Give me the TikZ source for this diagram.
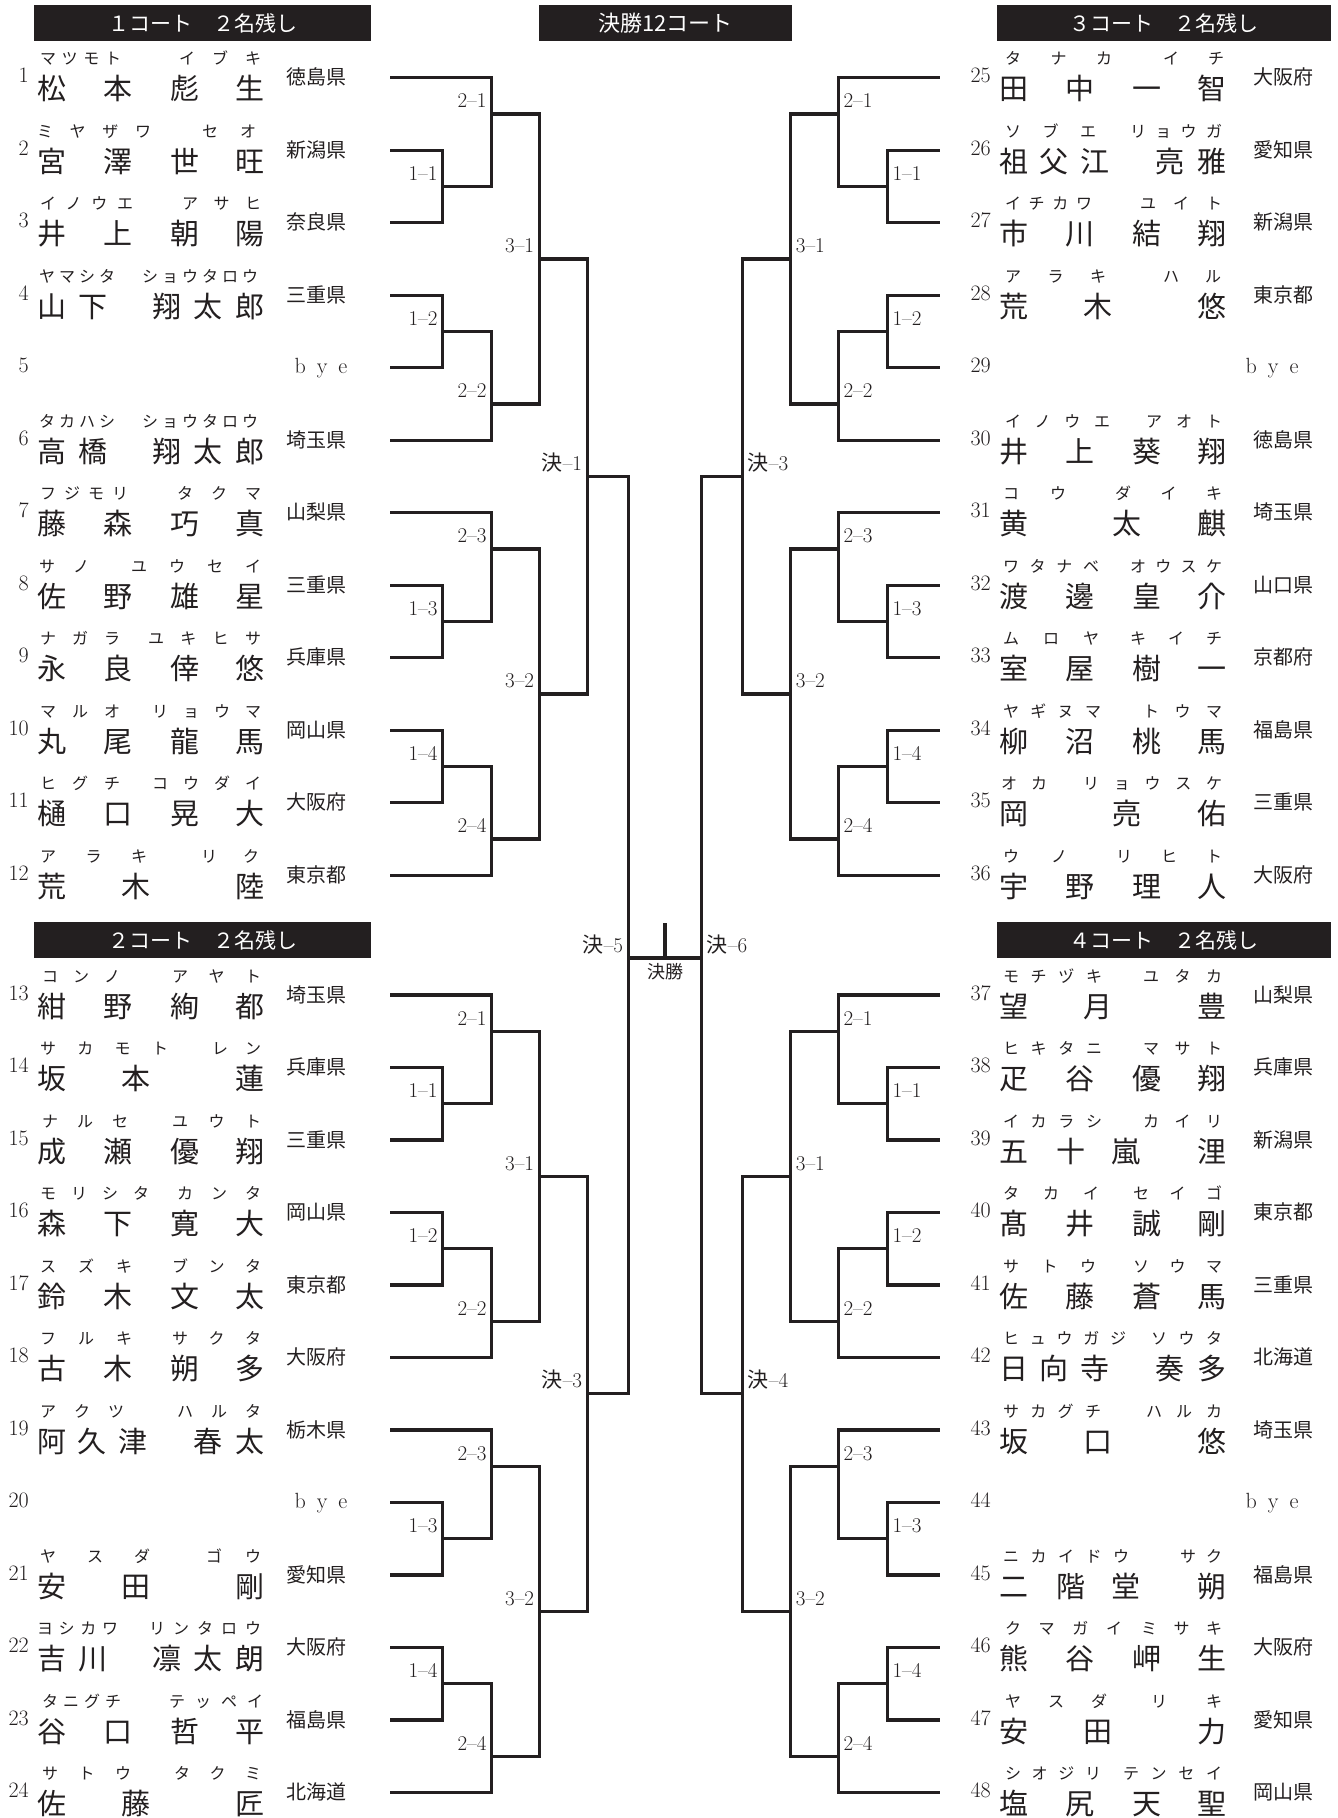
\documentclass[tikz,border=0pt]{standalone}
\usepackage{fontspec}
\newfontfamily\jp{Noto Sans CJK JP}
\definecolor{ink}{RGB}{35,31,32}
% ---------- rows ----------
\newcommand\setrow[2]{%
  \pgfmathsetmacro\yl{#2<12 ? 77.7+72.5*#2 : 995+72.5*(#2-12)}%
  \ifnum#1=0 \def\xo{52}\def\xn{29}\def\xp{316}\def\xbye{321}%
  \else \def\xo{1014}\def\xn{991}\def\xp{1283}\def\xbye{1272}\fi}
\newcommand\pn[1]{\node[pnum,anchor=base east] at (\xn,{\yl+5}) {#1};}
\newcommand\pp[1]{\node[pref] at (\xp,{\yl+7}) {#1};}
\newcommand\byeslot{\node[pnum,anchor=base] at (\xbye,{\yl+6}) {b\hspace{0.5em}y\hspace{0.5em}e};}
\newcommand\kj[2]{\node[kanji] at ({\xo+#1},{\yl+22}) {#2};}
\newcommand\KA[4]{\kj{0}{#1}\kj{66}{#2}\kj{133}{#3}\kj{198}{#4}}
\newcommand\KB[3]{\kj{0}{#1}\kj{84}{#2}\kj{198}{#3}}
\newcommand\KC[5]{\kj{0}{#1}\kj{41}{#2}\kj{115}{#3}\kj{156}{#4}\kj{198}{#5}}
\newcommand\KD[5]{\kj{0}{#1}\kj{40}{#2}\kj{81}{#3}\kj{156}{#4}\kj{198}{#5}}
\newcommand\KE[4]{\kj{0}{#1}\kj{57}{#2}\kj{112}{#3}\kj{198}{#4}}
\newcommand\KF[3]{\kj{0}{#1}\kj{113}{#2}\kj{198}{#3}}
\newcommand\kk[3]{%
  \foreach \kc [count=\ki] in {#1} {\xdef\kn{\ki}}%
  \foreach \kc [count=\ki] in {#1} {%
    \pgfmathsetmacro\kx{\xo+#2+(\ki-1)*(#3-(#2))/(\kn-1)}%
    \node[kana] at (\kx,{\yl-13}) {\kc};}}
% ---------- bracket ----------
\newcommand\setside[1]{%
  \ifnum#1=0 \def\xs{390}\def\xa{442.7}\def\xb{491.7}\def\xc{539.3}\def\xd{587.3}\def\lof{-5}%
    \tikzset{lblpos/.style={anchor=base east}}%
  \else \def\xs{939.7}\def\xa{887.3}\def\xb{838.3}\def\xc{790.7}\def\xd{742.7}\def\lof{5}%
    \tikzset{lblpos/.style={anchor=base west}}\fi}
\newcommand\halfbr[4]{%
  \pgfmathsetmacro\hA{#1}\pgfmathsetmacro\hB{#1+72.5}\pgfmathsetmacro\hC{#1+145}%
  \pgfmathsetmacro\hD{#1+217.5}\pgfmathsetmacro\hE{#1+290}\pgfmathsetmacro\hF{#1+362.5}%
  \pgfmathsetmacro\hH{#1+36.25}\pgfmathsetmacro\hI{#1+108.75}\pgfmathsetmacro\hJ{#1+181.25}%
  \pgfmathsetmacro\hK{#1+253.75}\pgfmathsetmacro\hL{#1+326.25}%
  \draw[br] (\xs,\hA) -| (\xb,\hI) -- (\xa,\hI);
  \draw[br] (\xs,\hB) -| (\xa,\hC) -- (\xs,\hC);
  \draw[br] (\xb,\hH) -| (\xc,\hL) -- (\xb,\hL);
  \draw[br] (\xs,\hD) -| (\xa,\hE) -- (\xs,\hE);
  \draw[br] (\xa,\hK) -| (\xb,\hF) -- (\xs,\hF);
  \node[lbl,lblpos] at ({\xa+\lof},{\hI-6}) {1\textendash#2};
  \node[lbl,lblpos] at ({\xa+\lof},{\hK-6}) {1\textendash#3};
  \node[lbl,lblpos] at ({\xb+\lof},{\hH-6}) {2\textendash#2};
  \node[lbl,lblpos] at ({\xb+\lof},{\hL-6}) {2\textendash#3};
  \node[lbl,lblpos] at ({\xc+\lof},{\hJ-6}) {3\textendash#4};}
\newcommand\grp[2]{%
  \halfbr{#1}{1}{2}{1}%
  \pgfmathsetmacro\gB{#1+435}\halfbr{\gB}{3}{4}{2}%
  \pgfmathsetmacro\gT{#1+181.25}\pgfmathsetmacro\gU{#1+616.25}\pgfmathsetmacro\gM{#1+398.75}%
  \draw[br] (\xc,\gT) -| (\xd,\gU) -- (\xc,\gU);
  \node[lbl,lblpos] at ({\xd+\lof},{\gM-6}) {#2};}
\begin{document}
\begin{tikzpicture}[x=1pt,y=-1pt,
  br/.style={draw=ink,line width=3.3pt,line join=miter},
  kanji/.style={inner sep=0pt,anchor=base,font=\jp\fontsize{29}{29}\selectfont,text=ink},
  kana/.style={inner sep=0pt,anchor=base,font=\jp\fontsize{16}{16}\selectfont,text=ink},
  pnum/.style={inner sep=0pt,font=\fontsize{22}{22}\selectfont,text=ink},
  pref/.style={inner sep=0pt,anchor=base,font=\jp\fontsize{20}{20}\selectfont,text=ink},
  lbl/.style={inner sep=0pt,font=\fontsize{21}{21}\selectfont,text=ink},
  htext/.style={inner sep=0pt,anchor=base,font=\jp\fontsize{21}{21}\selectfont,text=white}]
\fill[white] (0,0) rectangle (1338,1818);
\useasboundingbox (0,0) rectangle (1338,1818);
% headers
\fill[ink] (34,5) rectangle (371,40.7);
\node[htext] (h1) at (202.5,31) {１コート　２名残し};
\fill[ink] (539,5) rectangle (792,40.7);
\node[htext,font=\jp\fontsize{22}{22}\selectfont] (hc) at (665.5,31.5) {決勝12コート};
\fill[ink] (997,5) rectangle (1331,40.7);
\node[htext] (h3) at (1164,31) {３コート　２名残し};
\fill[ink] (34,922.3) rectangle (371,957.7);
\node[htext] (h2) at (202.5,948.3) {２コート　２名残し};
\fill[ink] (997,922.3) rectangle (1331,957.7);
\node[htext] (h4) at (1164,948.3) {４コート　２名残し};
% brackets
\setside{0}
\grp{77.7}{{\jp 決}\textendash1}
\grp{995}{{\jp 決}\textendash3}
\setside{1}
\grp{77.7}{{\jp 決}\textendash3}
\grp{995}{{\jp 決}\textendash4}
% final
\draw[br] (587.3,476.5) -- (628.3,476.5) -- (628.3,1393.75) -- (587.3,1393.75);
\draw[br] (742.7,476.5) -- (701.7,476.5) -- (701.7,1393.75) -- (742.7,1393.75);
\draw[br] (628.3,958) -- (701.7,958);
\draw[br] (665,923) -- (665,958);
\node[lbl,anchor=base east] at (623.3,952) {{\jp 決}\textendash5};
\node[lbl,anchor=base west] at (706.7,952) {{\jp 決}\textendash6};
\node[lbl,anchor=north,font=\jp\fontsize{18}{18}\selectfont] (fin) at (665,963) {決勝};
% left players
\setrow{0}{0}\pn{1}\pp{徳島県}\KA{松}{本}{彪}{生}\kk{マ,ツ,モ,ト}{-4}{61}\kk{イ,ブ,キ}{135}{201}
\setrow{0}{1}\pn{2}\pp{新潟県}\KA{宮}{澤}{世}{旺}\kk{ミ,ヤ,ザ,ワ}{-7}{91}\kk{セ,オ}{158}{196}
\setrow{0}{2}\pn{3}\pp{奈良県}\KA{井}{上}{朝}{陽}\kk{イ,ノ,ウ,エ}{-4}{73}\kk{ア,サ,ヒ}{138}{201}
\setrow{0}{3}\pn{4}\pp{三重県}\KC{山}{下}{翔}{太}{郎}\kk{ヤ,マ,シ,タ}{-5}{55}\kk{シ,ョ,ウ,タ,ロ,ウ}{98}{198}
\setrow{0}{4}\pn{5}\byeslot
\setrow{0}{5}\pn{6}\pp{埼玉県}\KC{高}{橋}{翔}{太}{郎}\kk{タ,カ,ハ,シ}{-5}{55}\kk{シ,ョ,ウ,タ,ロ,ウ}{98}{198}
\setrow{0}{6}\pn{7}\pp{山梨県}\KA{藤}{森}{巧}{真}\kk{フ,ジ,モ,リ}{-4}{68}\kk{タ,ク,マ}{133}{201}
\setrow{0}{7}\pn{8}\pp{三重県}\KA{佐}{野}{雄}{星}\kk{サ,ノ}{-5}{29}\kk{ユ,ウ,セ,イ}{87}{201}
\setrow{0}{8}\pn{9}\pp{兵庫県}\KA{永}{良}{倖}{悠}\kk{ナ,ガ,ラ}{-4}{60}\kk{ユ,キ,ヒ,サ}{104}{201}
\setrow{0}{9}\pn{10}\pp{岡山県}\KA{丸}{尾}{龍}{馬}\kk{マ,ル,オ}{-4}{60}\kk{リ,ョ,ウ,マ}{108}{201}
\setrow{0}{10}\pn{11}\pp{大阪府}\KA{樋}{口}{晃}{大}\kk{ヒ,グ,チ}{-4}{60}\kk{コ,ウ,ダ,イ}{108}{201}
\setrow{0}{11}\pn{12}\pp{東京都}\KB{荒}{木}{陸}\kk{ア,ラ,キ}{-4}{87}\kk{リ,ク}{157}{199}
\setrow{0}{12}\pn{13}\pp{埼玉県}\KA{紺}{野}{絢}{都}\kk{コ,ン,ノ}{-2}{60}\kk{ア,ヤ,ト}{128}{201}
\setrow{0}{13}\pn{14}\pp{兵庫県}\KB{坂}{本}{蓮}\kk{サ,カ,モ,ト}{-4}{108}\kk{レ,ン}{168}{201}
\setrow{0}{14}\pn{15}\pp{三重県}\KA{成}{瀬}{優}{翔}\kk{ナ,ル,セ}{-2}{68}\kk{ユ,ウ,ト}{128}{201}
\setrow{0}{15}\pn{16}\pp{岡山県}\KA{森}{下}{寛}{大}\kk{モ,リ,シ,タ}{-4}{89}\kk{カ,ン,タ}{133}{201}
\setrow{0}{16}\pn{17}\pp{東京都}\KA{鈴}{木}{文}{太}\kk{ス,ズ,キ}{-4}{72}\kk{ブ,ン,タ}{128}{201}
\setrow{0}{17}\pn{18}\pp{大阪府}\KA{古}{木}{朔}{多}\kk{フ,ル,キ}{-4}{72}\kk{サ,ク,タ}{128}{201}
\setrow{0}{18}\pn{19}\pp{栃木県}\KD{阿}{久}{津}{春}{太}\kk{ア,ク,ツ}{-4}{64}\kk{ハ,ル,タ}{133}{201}
\setrow{0}{19}\pn{20}\byeslot
\setrow{0}{20}\pn{21}\pp{愛知県}\KB{安}{田}{剛}\kk{ヤ,ス,ダ}{-4}{90}\kk{ゴ,ウ}{162}{201}
\setrow{0}{21}\pn{22}\pp{大阪府}\KC{吉}{川}{凛}{太}{朗}\kk{ヨ,シ,カ,ワ}{-7}{58}\kk{リ,ン,タ,ロ,ウ}{105}{201}
\setrow{0}{22}\pn{23}\pp{福島県}\KA{谷}{口}{哲}{平}\kk{タ,ニ,グ,チ}{-2}{61}\kk{テ,ッ,ペ,イ}{125}{203}
\setrow{0}{23}\pn{24}\pp{北海道}\KB{佐}{藤}{匠}\kk{サ,ト,ウ}{-2}{71}\kk{タ,ク,ミ}{130}{201}
% right players
\setrow{1}{0}\pn{25}\pp{大阪府}\KA{田}{中}{一}{智}\kk{タ,ナ,カ}{-1}{90}\kk{イ,チ}{157}{202}
\setrow{1}{1}\pn{26}\pp{愛知県}\KD{祖}{父}{江}{亮}{雅}\kk{ソ,ブ,エ}{-1}{74}\kk{リ,ョ,ウ,ガ}{124}{200}
\setrow{1}{2}\pn{27}\pp{新潟県}\KA{市}{川}{結}{翔}\kk{イ,チ,カ,ワ}{-1}{70}\kk{ユ,イ,ト}{134}{200}
\setrow{1}{3}\pn{28}\pp{東京都}\KB{荒}{木}{悠}\kk{ア,ラ,キ}{-1}{84}\kk{ハ,ル}{157}{199}
\setrow{1}{4}\pn{29}\byeslot
\setrow{1}{5}\pn{30}\pp{徳島県}\KA{井}{上}{葵}{翔}\kk{イ,ノ,ウ,エ}{-1}{88}\kk{ア,オ,ト}{140}{200}
\setrow{1}{6}\pn{31}\pp{埼玉県}\KF{黄}{太}{麒}\kk{コ,ウ}{-3}{44}\kk{ダ,イ,キ}{109}{200}
\setrow{1}{7}\pn{32}\pp{山口県}\KA{渡}{邊}{皇}{介}\kk{ワ,タ,ナ,ベ}{-3}{77}\kk{オ,ウ,ス,ケ}{124}{200}
\setrow{1}{8}\pn{33}\pp{京都府}\KA{室}{屋}{樹}{一}\kk{ム,ロ,ヤ}{-3}{77}\kk{キ,イ,チ}{124}{200}
\setrow{1}{9}\pn{34}\pp{福島県}\KA{柳}{沼}{桃}{馬}\kk{ヤ,ギ,ヌ,マ}{-3}{79}\kk{ト,ウ,マ}{137}{200}
\setrow{1}{10}\pn{35}\pp{三重県}\KF{岡}{亮}{佑}\kk{オ,カ}{-5}{25}\kk{リ,ョ,ウ,ス,ケ}{77}{200}
\setrow{1}{11}\pn{36}\pp{大阪府}\KA{宇}{野}{理}{人}\kk{ウ,ノ}{-3}{45}\kk{リ,ヒ,ト}{110}{200}
\setrow{1}{12}\pn{37}\pp{山梨県}\KB{望}{月}{豊}\kk{モ,チ,ヅ,キ}{-3}{80}\kk{ユ,タ,カ}{137}{200}
\setrow{1}{13}\pn{38}\pp{兵庫県}\KA{疋}{谷}{優}{翔}\kk{ヒ,キ,タ,ニ}{-3}{80}\kk{マ,サ,ト}{137}{200}
\setrow{1}{14}\pn{39}\pp{新潟県}\KE{五}{十}{嵐}{浬}\kk{イ,カ,ラ,シ}{-3}{80}\kk{カ,イ,リ}{137}{200}
\setrow{1}{15}\pn{40}\pp{東京都}\KA{髙}{井}{誠}{剛}\kk{タ,カ,イ}{-3}{77}\kk{セ,イ,ゴ}{127}{200}
\setrow{1}{16}\pn{41}\pp{三重県}\KA{佐}{藤}{蒼}{馬}\kk{サ,ト,ウ}{-3}{74}\kk{ソ,ウ,マ}{127}{200}
\setrow{1}{17}\pn{42}\pp{北海道}\KD{日}{向}{寺}{奏}{多}\kk{ヒ,ュ,ウ,ガ,ジ}{-3}{104}\kk{ソ,ウ,タ}{145}{200}
\setrow{1}{18}\pn{43}\pp{埼玉県}\KB{坂}{口}{悠}\kk{サ,カ,グ,チ}{-3}{79}\kk{ハ,ル,カ}{140}{200}
\setrow{1}{19}\pn{44}\byeslot
\setrow{1}{20}\pn{45}\pp{福島県}\KE{二}{階}{堂}{朔}\kk{ニ,カ,イ,ド,ウ}{-3}{107}\kk{サ,ク}{174}{200}
\setrow{1}{21}\pn{46}\pp{大阪府}\KA{熊}{谷}{岬}{生}\kk{ク,マ,ガ,イ}{-1}{100}\kk{ミ,サ,キ}{135}{200}
\setrow{1}{22}\pn{47}\pp{愛知県}\KB{安}{田}{力}\kk{ヤ,ス,ダ}{-1}{85}\kk{リ,キ}{145}{200}
\setrow{1}{23}\pn{48}\pp{岡山県}\KA{塩}{尻}{天}{聖}\kk{シ,オ,ジ,リ}{-1}{79}\kk{テ,ン,セ,イ}{117}{200}
\end{tikzpicture}
\end{document}
